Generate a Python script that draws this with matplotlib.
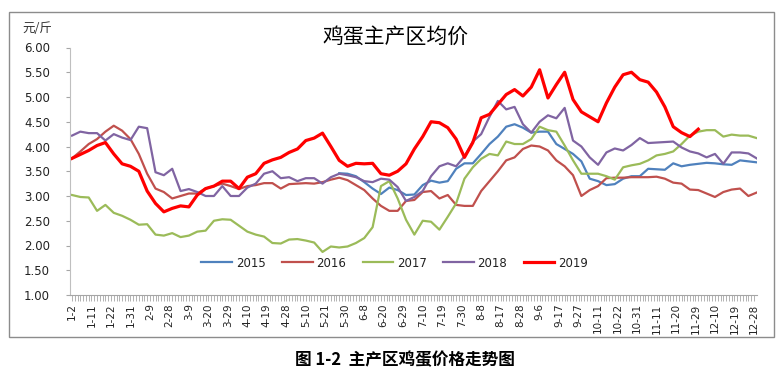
import numpy as np
import matplotlib
matplotlib.use("Agg")
import matplotlib.pyplot as plt
from matplotlib.patches import Rectangle
from matplotlib.ticker import FixedLocator, FormatStrFormatter

plt.rcParams['font.family'] = ['Noto Sans CJK SC', 'DejaVu Sans']

# x axis: trading-day index, labels every 7 days
tick_labels = ["1-2", "1-11", "1-22", "1-31", "2-9", "2-28", "3-9", "3-20", "3-29",
               "4-10", "4-19", "4-28", "5-10", "5-21", "5-30", "6-8", "6-20", "6-29",
               "7-10", "7-19", "7-30", "8-8", "8-17", "8-28", "9-6", "9-17", "9-27",
               "10-11", "10-22", "10-31", "11-11", "11-20", "11-29", "12-10", "12-19", "12-28"]
tick_pos = np.arange(0, 246, 7)

# sampled every 3 trading days
idx = np.arange(0, 247, 3)

y2015 = [3.46, 3.45, 3.40, 3.28, 3.15, 3.04, 3.17, 3.12, 3.02, 3.03, 3.22, 3.31, 3.27,
         3.30, 3.55, 3.66, 3.66, 3.85, 4.05, 4.20, 4.40, 4.45, 4.38, 4.28, 4.30, 4.30,
         4.05, 3.95, 3.85, 3.70, 3.35, 3.30, 3.22, 3.24, 3.35, 3.40, 3.40, 3.55, 3.54,
         3.53, 3.66, 3.60, 3.63, 3.65, 3.67, 3.66, 3.64, 3.63, 3.72, 3.70, 3.68]

y2016 = [3.76, 3.90, 4.05, 4.15, 4.30, 4.42, 4.32, 4.15, 3.85, 3.45, 3.15, 3.08, 2.95,
         3.00, 3.05, 3.05, 3.15, 3.20, 3.25, 3.20, 3.14, 3.20, 3.22, 3.26, 3.26, 3.15,
         3.24, 3.25, 3.26, 3.25, 3.28, 3.33, 3.37, 3.32, 3.22, 3.12, 2.95, 2.80, 2.70,
         2.70, 2.90, 2.92, 3.08, 3.10, 2.95, 3.02, 2.82, 2.80, 2.80, 3.10, 3.30, 3.50,
         3.72, 3.78, 3.95, 4.02, 4.00, 3.92, 3.72, 3.60, 3.42, 3.00, 3.12, 3.20, 3.36,
         3.37, 3.37, 3.38, 3.38, 3.38, 3.39, 3.35, 3.27, 3.25, 3.13, 3.12, 3.05, 2.98,
         3.08, 3.13, 3.15, 3.00, 3.07]

y2017 = [3.02, 2.98, 2.97, 2.70, 2.82, 2.66, 2.60, 2.52, 2.42, 2.43, 2.22, 2.20, 2.25,
         2.17, 2.20, 2.28, 2.30, 2.50, 2.53, 2.52, 2.40, 2.28, 2.22, 2.18, 2.05, 2.04,
         2.12, 2.13, 2.10, 2.06, 1.87, 1.98, 1.96, 1.98, 2.05, 2.15, 2.37, 3.20, 3.30,
         2.95, 2.52, 2.22, 2.50, 2.48, 2.32, 2.58, 2.85, 3.35, 3.58, 3.75, 3.85, 3.82,
         4.10, 4.05, 4.05, 4.15, 4.40, 4.33, 4.30, 4.02, 3.72, 3.45, 3.45, 3.45, 3.40,
         3.33, 3.58, 3.62, 3.65, 3.72, 3.82, 3.85, 3.90, 4.05, 4.22, 4.30, 4.33, 4.33,
         4.20, 4.24, 4.22, 4.22, 4.17]

y2018 = [4.22, 4.30, 4.27, 4.27, 4.12, 4.25, 4.18, 4.13, 4.40, 4.37, 3.48, 3.42, 3.55,
         3.10, 3.14, 3.08, 3.00, 3.00, 3.20, 3.00, 3.00, 3.17, 3.25, 3.45, 3.50, 3.36,
         3.38, 3.30, 3.36, 3.36, 3.25, 3.38, 3.45, 3.42, 3.38, 3.30, 3.28, 3.35, 3.33,
         3.18, 2.90, 2.98, 3.10, 3.40, 3.60, 3.66, 3.60, 3.80, 4.10, 4.25, 4.60, 4.92,
         4.75, 4.80, 4.45, 4.28, 4.50, 4.63, 4.57, 4.78, 4.12, 4.00, 3.78, 3.63, 3.88,
         3.96, 3.92, 4.03, 4.17, 4.07, 4.08, 4.09, 4.10, 3.98, 3.90, 3.86, 3.78, 3.85,
         3.65, 3.88, 3.88, 3.86, 3.76]

y2019 = [3.76, 3.84, 3.92, 4.02, 4.08, 3.85, 3.65, 3.60, 3.50, 3.10, 2.85, 2.68, 2.75,
         2.80, 2.78, 3.02, 3.15, 3.20, 3.30, 3.30, 3.15, 3.38, 3.45, 3.66, 3.73, 3.78,
         3.88, 3.95, 4.12, 4.17, 4.27, 4.00, 3.72, 3.60, 3.66, 3.65, 3.66, 3.45, 3.42,
         3.50, 3.65, 3.95, 4.20, 4.50, 4.48, 4.38, 4.15, 3.78, 4.08, 4.58, 4.65, 4.85,
         5.05, 5.15, 5.02, 5.20, 5.55, 4.98, 5.25, 5.50, 4.95, 4.70, 4.60, 4.50, 4.88,
         5.20, 5.45, 5.50, 5.35, 5.30, 5.10, 4.80, 4.40, 4.28, 4.20, 4.35]

series = [
    ("2015", idx[32:], y2015, "#4F81BD", 1.6),
    ("2016", idx, y2016, "#C0504D", 1.6),
    ("2017", idx, y2017, "#9BBB59", 1.6),
    ("2018", idx, y2018, "#8064A2", 1.6),
    ("2019", idx[:76], y2019, "#FF0000", 2.3),
]

W, H = 781, 384
fig = plt.figure(figsize=(W / 100, H / 100), dpi=100)
ax = fig.add_axes([69.5 / W, (H - 295) / H, (757 - 69.5) / W, (295 - 47.5) / H])

for name, xs, ys, color, lw in series:
    ax.plot(xs, ys, color=color, lw=lw, label=name, solid_joinstyle="round")

ax.set_xlim(-0.9, 246.1)
ax.set_ylim(1.0, 6.0)
ax.set_yticks(np.arange(1.0, 6.01, 0.5))
ax.yaxis.set_major_formatter(FormatStrFormatter("%.2f"))

ax.set_xticks(tick_pos)
ax.set_xticklabels(tick_labels, rotation=90, family="DejaVu Sans", fontsize=7.5, color="#222222")
ax.xaxis.set_minor_locator(FixedLocator(np.arange(0, 246)))
for lab in ax.get_yticklabels():
    lab.set_family("DejaVu Sans")

ax.tick_params(axis="y", length=3, color="#a6a6a6", labelsize=8.5, pad=11, labelcolor="#222222")
ax.tick_params(axis="x", which="both", length=4, width=0.6, color="#a6a6a6", pad=2)

for s in ["top", "right"]:
    ax.spines[s].set_visible(False)
ax.spines["left"].set_color("#bfbfbf")
ax.spines["bottom"].set_color("#a6a6a6")

leg = ax.legend(ncol=5, loc="center", bbox_to_anchor=(0.473, 0.129), frameon=False,
                handlelength=2.6, handletextpad=0.3, columnspacing=1.4,
                prop={"family": "DejaVu Sans", "size": 8.5})
for t in leg.get_texts():
    t.set_color("#222222")

fig.text(396 / W, 1 - 37 / H, "鸡蛋主产区均价", ha="center", va="center", fontsize=15)
fig.text(22 / W, 1 - 28 / H, "元/斤", ha="left", va="center", fontsize=9, color="#333333")
fig.text(405 / W, 1 - 360 / H, "图 1-2  主产区鸡蛋价格走势图", ha="center", va="center",
         fontsize=12, fontweight="bold")

fig.patches.append(Rectangle((9 / W, 1 - 337 / H), (774 - 9) / W, (337 - 12) / H,
                             transform=fig.transFigure, fill=False, edgecolor="#8c8c8c", lw=1))

fig.savefig("out.png", dpi=100)
